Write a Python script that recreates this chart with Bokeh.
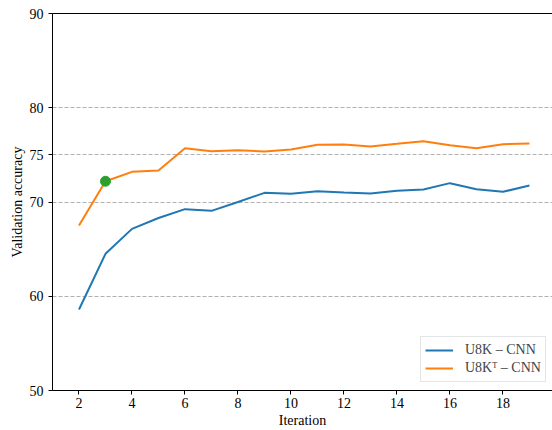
from bokeh.plotting import figure
from bokeh.models import Range1d, FixedTicker, Legend, LegendItem, LinearAxis
from bokeh.embed import file_html
from bokeh.resources import INLINE

iterations = list(range(2, 20))
u8k_cnn = [58.6, 64.5, 67.15, 68.3, 69.24, 69.06, 70.0, 70.97, 70.87, 71.15,
           71.0, 70.9, 71.2, 71.33, 72.0, 71.36, 71.08, 71.75]
u8kt_cnn = [67.5, 72.2, 73.2, 73.34, 75.71, 75.39, 75.5, 75.36, 75.57, 76.07,
            76.1, 75.9, 76.17, 76.45, 76.03, 75.71, 76.13, 76.2]
highlight_x = [3]
highlight_y = [72.2]
y_ticks = [50, 60, 70, 75, 80, 90]
x_ticks = [2, 4, 6, 8, 10, 12, 14, 16, 18]
labels = ["U8K \u2013 CNN", "U8K\u1d40 \u2013 CNN"]

FONT = "Liberation Serif"

p = figure(width=552, height=430, output_backend="svg",
           toolbar_location=None, x_range=Range1d(1, 19.87), y_range=Range1d(50, 90),
           min_border_left=52, min_border_top=13, min_border_right=0, min_border_bottom=40)
p.outline_line_color = None
p.background_fill_color = "white"

l1 = p.line(iterations, u8k_cnn, line_color="#1f77b4", line_width=2)
l2 = p.line(iterations, u8kt_cnn, line_color="#ff7f0e", line_width=2)
p.scatter(highlight_x, highlight_y, size=10, color="#2ca02c")

p.xgrid.visible = False
p.ygrid.ticker = FixedTicker(ticks=y_ticks)
p.ygrid.grid_line_color = "#b0b0b0"
p.ygrid.grid_line_dash = "4 2"
p.ygrid.grid_line_width = 1

for ax in (p.xaxis[0], p.yaxis[0]):
    ax.axis_line_color = "black"
    ax.major_tick_line_color = "black"
    ax.minor_tick_line_color = None
    ax.major_tick_in = 0
    ax.major_tick_out = 4
    ax.major_label_text_font = FONT
    ax.major_label_text_font_size = "14px"
    ax.major_label_text_color = "black"
    ax.axis_label_text_font = FONT
    ax.axis_label_text_font_size = "14px"
    ax.axis_label_text_font_style = "normal"
    ax.axis_label_text_color = "black"

p.xaxis[0].ticker = FixedTicker(ticks=x_ticks)
p.yaxis[0].ticker = FixedTicker(ticks=y_ticks)
p.xaxis[0].axis_label = "Iteration"
p.yaxis[0].axis_label = "Validation accuracy"
p.xaxis[0].major_label_standoff = 3
p.xaxis[0].axis_label_standoff = 2
p.xaxis[0].major_label_text_line_height = 1.0
p.xaxis[0].axis_label_text_line_height = 1.0
p.yaxis[0].major_label_standoff = 5
p.yaxis[0].axis_label_standoff = 2

top = LinearAxis(ticker=FixedTicker(ticks=[]), axis_line_color="black",
                 major_tick_line_color=None, minor_tick_line_color=None)
p.add_layout(top, "above")

legend = Legend(items=[LegendItem(label=labels[0], renderers=[l1]),
                       LegendItem(label=labels[1], renderers=[l2])],
                location=(368, 8), margin=0, padding=4, spacing=0,
                glyph_width=28, glyph_height=18, label_height=18, label_standoff=12,
                label_text_font=FONT, label_text_font_size="14px",
                border_line_color="#cccccc", border_line_width=1,
                background_fill_alpha=0.8)
p.add_layout(legend, "center")

open("out.html", "w").write(file_html(p, INLINE))
